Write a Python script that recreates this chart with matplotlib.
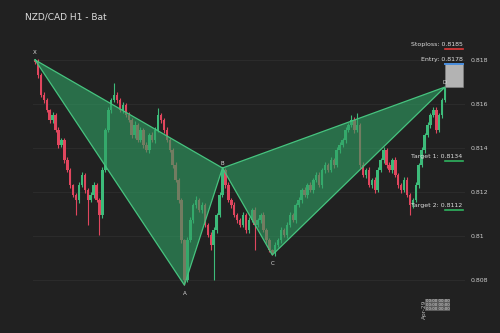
import matplotlib
matplotlib.use("Agg")
import matplotlib.pyplot as plt
from matplotlib.ticker import FuncFormatter, FixedLocator

title = "NZD/CAD H1 - Bat"

closes = [
    0.81791, 0.81732, 0.81641, 0.81618, 0.81573, 0.81527, 0.81550, 0.81482, 0.81414, 0.81436,
    0.81345, 0.81300, 0.81232, 0.81186, 0.81164, 0.81232, 0.81277, 0.81209, 0.81164, 0.81186,
    0.81232, 0.81164, 0.81095, 0.81300, 0.81482, 0.81573, 0.81618, 0.81641, 0.81618, 0.81573,
    0.81595, 0.81550, 0.81527, 0.81459, 0.81505, 0.81436, 0.81482, 0.81414, 0.81391, 0.81459,
    0.81436, 0.81482, 0.81550, 0.81527, 0.81482, 0.81436, 0.81391, 0.81323, 0.81255, 0.81164,
    0.80982, 0.80800, 0.80982, 0.81073, 0.81141, 0.81164, 0.81118, 0.81141, 0.81050, 0.81005,
    0.80959, 0.81027, 0.81095, 0.81186, 0.81300, 0.81232, 0.81164, 0.81141, 0.81095, 0.81073,
    0.81050, 0.81095, 0.81027, 0.81073, 0.81118, 0.81050, 0.81073, 0.81095, 0.81027, 0.80982,
    0.80936, 0.80923, 0.80959, 0.80982, 0.81027, 0.81005, 0.81050, 0.81095, 0.81073, 0.81141,
    0.81164, 0.81209, 0.81186, 0.81232, 0.81209, 0.81255, 0.81277, 0.81232, 0.81300, 0.81323,
    0.81300, 0.81345, 0.81323, 0.81391, 0.81414, 0.81436, 0.81482, 0.81505, 0.81527, 0.81482,
    0.81505, 0.81323, 0.81277, 0.81300, 0.81232, 0.81255, 0.81209, 0.81300, 0.81345, 0.81391,
    0.81323, 0.81300, 0.81345, 0.81277, 0.81232, 0.81209, 0.81255, 0.81186, 0.81141, 0.81164,
    0.81232, 0.81323, 0.81391, 0.81459, 0.81505, 0.81550, 0.81573, 0.81482, 0.81550, 0.81618,
    0.81673,
]
first_open = 0.81800

# wick lengths in units of 0.00001
wick_up = [
    0, 12, 8, 15, 10, 6, 14, 9, 12, 10,
    8, 12, 10, 6, 9, 14, 12, 8, 10, 12,
    15, 8, 10, 12, 9, 14, 10, 54, 12, 8,
    14, 10, 12, 9, 16, 8, 12, 10, 14, 9,
    12, 15, 32, 10, 8, 12, 9, 10, 12, 8,
    10, 6, 12, 15, 10, 18, 9, 12, 10, 8,
    12, 14, 10, 12, 9, 10, 12, 8, 14, 10,
    9, 12, 10, 14, 8, 12, 10, 9, 12, 8,
    10, 6, 12, 9, 14, 10, 12, 15, 10, 9,
    12, 10, 14, 9, 12, 10, 15, 12, 10, 14,
    9, 12, 10, 14, 12, 9, 15, 10, 23, 12,
    54, 10, 12, 9, 14, 10, 12, 15, 10, 12,
    9, 14, 10, 12, 9, 10, 14, 12, 10, 9,
    12, 10, 14, 9, 12, 10, 15, 12, 9, 10,
    4,
]
wick_dn = [
    10, 12, 9, 14, 10, 12, 15, 9, 12, 10,
    14, 9, 12, 10, 69, 12, 9, 14, 114, 10,
    12, 10, 90, 12, 9, 10, 12, 9, 14, 10,
    12, 9, 10, 14, 12, 10, 9, 12, 10, 14,
    9, 12, 10, 12, 14, 10, 9, 12, 10, 14,
    12, 23, 10, 9, 12, 14, 10, 12, 9, 10,
    23, 159, 12, 10, 9, 12, 10, 14, 9, 12,
    10, 9, 14, 12, 10, 114, 9, 12, 10, 14,
    9, 9, 12, 10, 14, 9, 12, 10, 9, 14,
    10, 12, 9, 14, 10, 12, 9, 10, 14, 12,
    10, 9, 12, 10, 14, 9, 12, 10, 9, 12,
    10, 14, 9, 12, 10, 12, 14, 9, 10, 12,
    14, 9, 12, 10, 14, 12, 9, 10, 46, 12,
    10, 12, 9, 14, 10, 12, 9, 14, 10, 12,
    9,
]

# Harmonic pattern points (candle index, price)
pattern_names = ["X", "A", "B", "C", "D"]
pattern_idx = [0, 51, 64, 81, 140]
pattern_px = [0.81800, 0.80777, 0.81309, 0.80914, 0.81677]

entry = 0.8178
stoploss = 0.8185
target1 = 0.8134
target2 = 0.8112

yticks = [0.808, 0.810, 0.812, 0.814, 0.816, 0.818]
date_label = "Apr-29"

BG = "#212121"
UP = "#3dbb7a"
DN = "#e0465e"

opens = [first_open] + closes[:-1]
highs = [max(o, c) + w * 1e-5 for o, c, w in zip(opens, closes, wick_up)]
lows = [min(o, c) - w * 1e-5 for o, c, w in zip(opens, closes, wick_dn)]
n = len(closes)
xs = list(range(n))

fig = plt.figure(figsize=(5, 3.33), dpi=100, facecolor=BG)
ax = fig.add_axes([0.066, 0.108, 0.864, 0.802], facecolor=BG)

for i in xs:
    col = UP if closes[i] >= opens[i] else DN
    ax.vlines(i, lows[i], highs[i], color=col, lw=0.8, zorder=2)
    b0 = min(opens[i], closes[i])
    h = abs(closes[i] - opens[i])
    if h < 2e-6:
        h = 2e-6
    ax.bar(i, h, bottom=b0, width=0.85, color=col, lw=0, zorder=2)

# triangles
xi = pattern_idx
yp = pattern_px
ax.fill([xi[0], xi[1], xi[2]], [yp[0], yp[1], yp[2]], color="#2f9e63", alpha=0.62,
        zorder=3, lw=0)
ax.fill([xi[2], xi[3], xi[4]], [yp[2], yp[3], yp[4]], color="#2f9e63", alpha=0.62,
        zorder=3, lw=0)
ax.plot([xi[0], xi[1], xi[2], xi[0]], [yp[0], yp[1], yp[2], yp[0]], color="#46c47f",
        lw=0.9, zorder=4)
ax.plot([xi[2], xi[3], xi[4], xi[2]], [yp[2], yp[3], yp[4], yp[2]], color="#46c47f",
        lw=0.9, zorder=4)

offsets = [(0, 5), (0, -6), (0, 3), (0, -6), (0, 3)]
for name, x, y, (dx, dy) in zip(pattern_names, xi, yp, offsets):
    ax.annotate(name, (x, y), xytext=(dx, dy), textcoords="offset points",
                ha="center", va="center", fontsize=4, color="#dddddd", zorder=6)

# entry box
d_x = xi[4]
box_w = 6
ax.add_patch(plt.Rectangle((d_x, yp[4]), box_w, entry - yp[4], facecolor="#b3b3b3",
                           edgecolor="#8a8a8a", lw=0.4, zorder=5))
ax.plot([d_x, d_x + box_w], [entry, entry], color="#4a8fe0", lw=1.4, zorder=6)

levels = [("Stoploss", stoploss, "#e03a3a"), ("Target 1", target1, "#2fb35f"),
          ("Target 2", target2, "#2fb35f")]
for lab, val, col in levels:
    ax.plot([d_x, d_x + box_w], [val, val], color=col, lw=1.2, zorder=6)
    ax.text(d_x + box_w, val + 0.00009, f"{lab}: {val:.4f}", ha="right", va="bottom",
            fontsize=4.5, color="#dddddd", zorder=6)
ax.text(d_x + box_w, entry + 0.00009, f"Entry: {entry:.4f}", ha="right", va="bottom",
        fontsize=4.5, color="#dddddd", zorder=6)

ax.set_xlim(-0.7, 146.8)
ax.set_ylim(0.80723, 0.81936)
ax.yaxis.tick_right()
ax.yaxis.set_major_locator(FixedLocator(yticks))
ax.yaxis.set_major_formatter(FuncFormatter(lambda v, p: f"{v:g}"))
ax.tick_params(axis="y", length=0, labelsize=4.5, labelcolor="#cccccc", pad=4)
ax.set_xticks([])
ax.grid(axis="y", color="#2e2e2e", lw=0.6, zorder=0)
for s in ax.spines.values():
    s.set_visible(False)

# crowded date tick labels
ax.text(133.0, 0.80712, date_label, rotation=90, ha="center", va="top", fontsize=4.2,
        color="#bbbbbb", clip_on=False)
for k in range(3):
    ax.text(137.5, 0.80712 - k * 0.00017, "00:00 00:00", ha="center", va="top",
            fontsize=2.8, color="#dddddd", clip_on=False,
            bbox=dict(fc="#5a5a5a", ec="none", pad=0.3))

fig.text(0.05, 0.949, title, fontsize=6.5, color="#dddddd", ha="left", va="center")

fig.savefig("out.png", dpi=100, facecolor=BG)
